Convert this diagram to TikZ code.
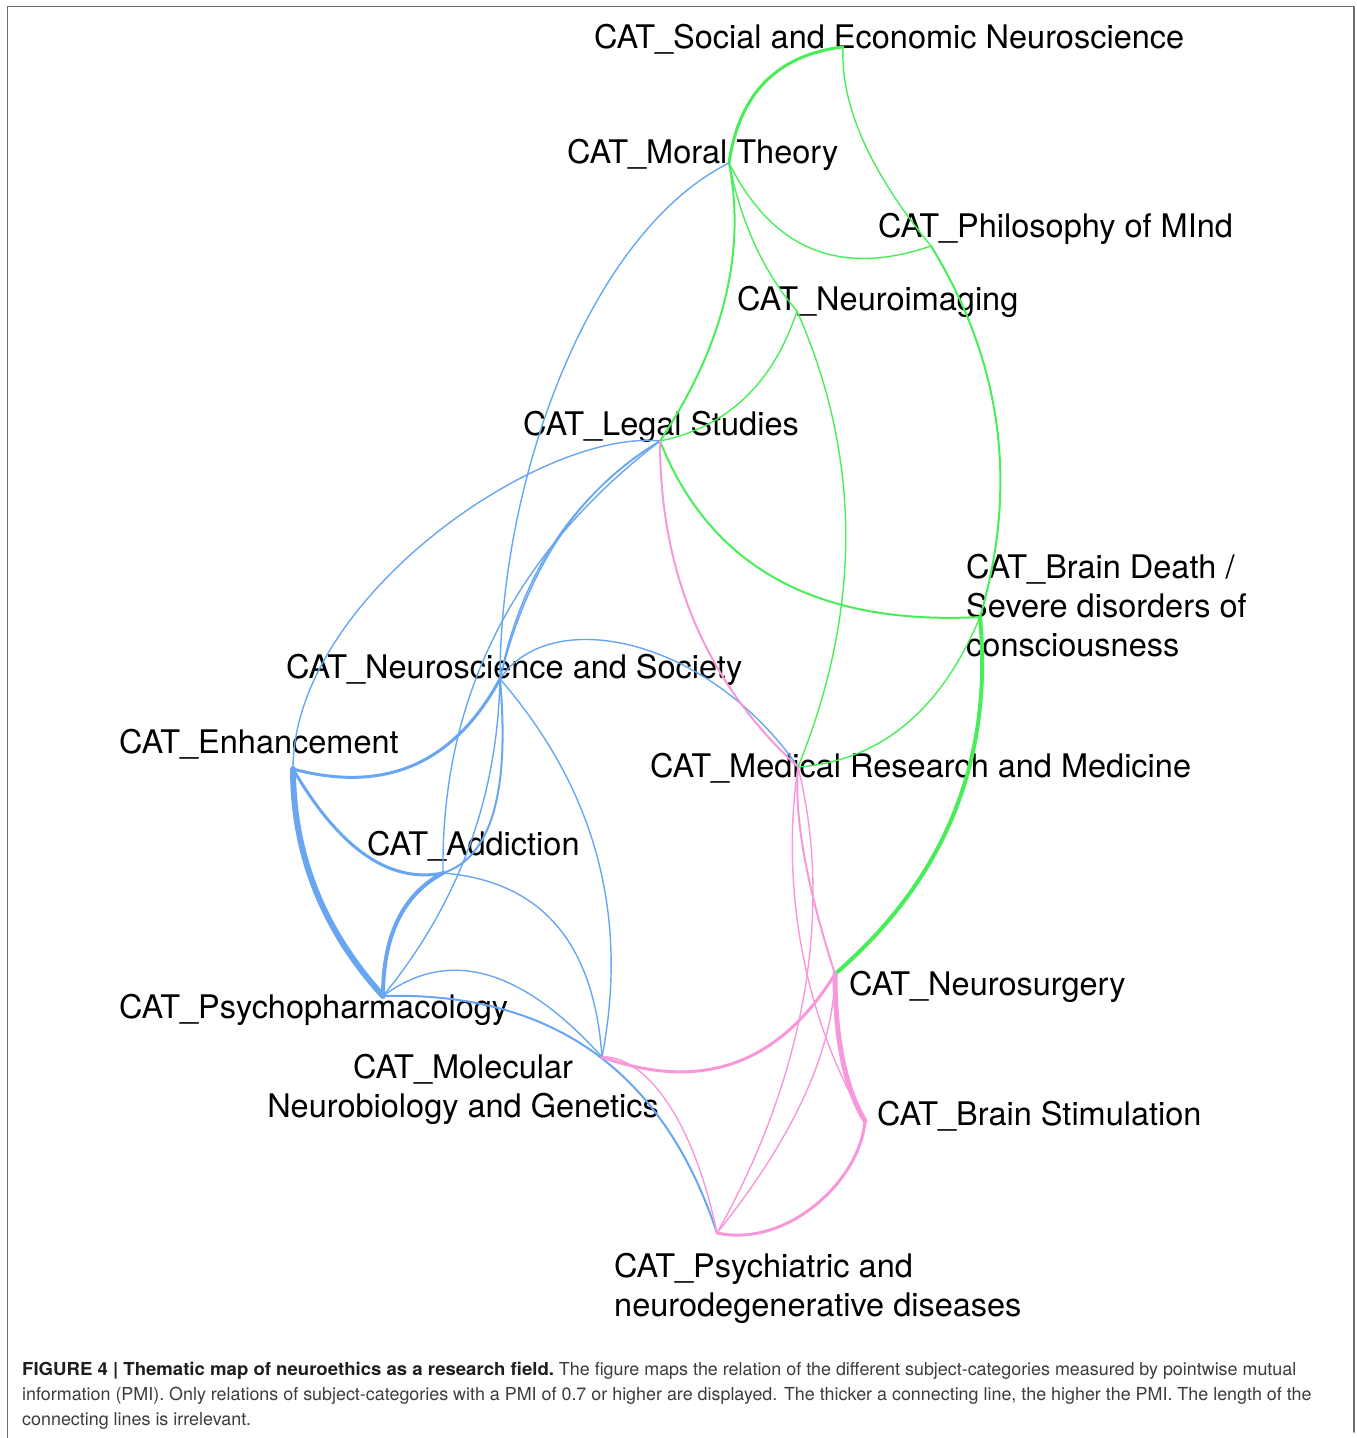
\documentclass[tikz,border=0pt]{standalone}
\usepackage{fontspec}
\usepackage{graphicx}
\usetikzlibrary{calc}
\setmainfont{TeX Gyre Heros}
\newfontfamily\capfont{TeX Gyre Heros}
\definecolor{gr}{RGB}{72,238,88}
\definecolor{bl}{RGB}{104,166,242}
\definecolor{pk}{RGB}{248,152,218}
\definecolor{frm}{RGB}{110,110,110}
\definecolor{captxt}{RGB}{60,60,60}
\definecolor{capbold}{RGB}{30,30,30}
\newcommand{\mlab}[2][l]{\begin{tabular}[t]{@{}#1@{}}#2\end{tabular}}
% quadratic edge: style, from, control, to
\newcommand{\qedge}[4]{\draw[#1] (#2) .. controls ($(#2)!0.6667!(#3)$) and ($(#4)!0.6667!(#3)$) .. (#4);}
\begin{document}
\begin{tikzpicture}[x=1pt,y=-1pt, line cap=round, line join=round,
 lbl/.style={inner sep=0pt, anchor=base west, font=\fontsize{32.5}{39}\selectfont},
 G/.style={draw=gr}, B/.style={draw=bl}, P/.style={draw=pk},
 w1/.style={line width=1.4pt}, w15/.style={line width=1.5pt}, w2/.style={line width=2pt},
 w3/.style={line width=3pt}, w4/.style={line width=4pt}, w5/.style={line width=5pt}, w6/.style={line width=6pt}]
\useasboundingbox (0,0) rectangle (1357,1438);
\draw[frm, line width=1.5pt] (7.5,1440) -- (7.5,6.5) -- (1354,6.5) -- (1354,1432);

% vertices
\coordinate (S) at (843,47);
\coordinate (M) at (729,163);
\coordinate (P) at (931,246);
\coordinate (N) at (797,311);
\coordinate (L) at (660,441);
\coordinate (BD) at (980,617);
\coordinate (NS) at (500,679);
\coordinate (E) at (293,769);
\coordinate (MR) at (798,767);
\coordinate (A) at (443,873);
\coordinate (PP) at (383,996);
\coordinate (MO) at (602,1057);
\coordinate (NSU) at (835,974);
\coordinate (BS) at (865,1121);
\coordinate (PS) at (717,1233);

% labels
\node[lbl] (tS) at (594,48) {CAT\_Social and Economic Neuroscience};
\node[lbl] (tM) at (567,163) {CAT\_Moral Theory};
\node[lbl] (tP) at (878,237) {CAT\_Philosophy of MInd};
\node[lbl] (tN) at (737,310) {CAT\_Neuroimaging};
\node[lbl] (tL) at (523,435) {CAT\_Legal Studies};
\node[lbl] (tBD) at (966,578) {\mlab{CAT\_Brain Death /\\Severe disorders of\\consciousness}};
\node[lbl] (tNS) at (286,678) {CAT\_Neuroscience and Society};
\node[lbl] (tE) at (119,753) {CAT\_Enhancement};
\node[lbl] (tMR) at (650,777) {CAT\_Medical Research and Medicine};
\node[lbl] (tA) at (367,855) {CAT\_Addiction};
\node[lbl] (tNSU) at (849,995) {CAT\_Neurosurgery};
\node[lbl] (tPP) at (119,1018) {CAT\_Psychopharmacology};
\node[lbl, anchor=base] (tMO) at (463,1078) {\mlab[c]{CAT\_Molecular\\Neurobiology and Genetics}};
\node[lbl] (tBS) at (877,1125) {CAT\_Brain Stimulation};
\node[lbl] (tPS) at (614,1277) {\mlab{CAT\_Psychiatric and\\neurodegenerative diseases}};

% green edges
\qedge{G,w3}{M}{744,59}{S}
\qedge{G,w1}{S}{839,134}{P}
\qedge{G,w1}{M}{794,293}{P}
\qedge{G,w1}{M}{747,253}{N}
\qedge{G,w2}{M}{755,298}{L}
\qedge{G,w1}{N}{761,420}{L}
\qedge{G,w1}{N}{894,531}{MR}
\qedge{G,w2}{L}{735,630}{BD}
\qedge{G,w2}{P}{1038,420}{BD}
\qedge{G,w4}{BD}{1000,832}{NSU}
\qedge{G,w1}{BD}{921,758}{MR}

% blue edges
\draw[B,w1] (M) .. controls (589,233) and (500,479) .. (NS);
\qedge{B,w15}{L}{532,520}{NS}
\qedge{B,w15}{L}{541,511}{NS}
\qedge{B,w1}{L}{440,610}{A}
\draw[B,w1] (L) .. controls (540,429) and (293,599) .. (E);
\qedge{B,w3}{NS}{431,806}{E}
\draw[B,w1] (NS) .. controls (550,604) and (708,637) .. (MR);
\qedge{B,w1}{NS}{643,844}{MO}
\qedge{B,w2}{NS}{515,850}{A}
\qedge{B,w1}{NS}{496,858}{PP}
\qedge{B,w3}{E}{363,889}{A}
\qedge{B,w6}{E}{293,897}{PP}
\qedge{B,w4}{A}{383,905}{PP}
\qedge{B,w1}{A}{590,885}{MO}
\qedge{B,w1}{PP}{481,923}{MO}
\qedge{B,w2}{PP}{636,989}{PS}

% pink edges
\qedge{P,w2}{L}{660,640}{MR}
\qedge{P,w2}{MR}{792,841}{NSU}
\draw[P,w1] (MR) .. controls (783,867) and (795,1001) .. (BS);
\draw[P,w1] (MR) .. controls (833,907) and (807,1073) .. (PS);
\qedge{P,w1}{NSU}{833,1088}{PS}
\qedge{P,w5}{NSU}{835,1071}{BS}
\qedge{P,w3}{NSU}{751,1110}{MO}
\draw[P,w1] (MO) .. controls (642,1055) and (692,1113) .. (PS);
\draw[P,w3] (BS) .. controls (860,1181) and (787,1248) .. (PS);

% caption
\node[anchor=base west, inner sep=0pt, text=captxt, font=\capfont\fontsize{17.9}{25}\selectfont] (cap) at (22,1375)
 {\begin{tabular}[t]{@{}l@{}}\textcolor{capbold}{\scalebox{1.038}[1]{\textbf{FIGURE 4 | Thematic map of neuroethics as a research field.}}} The figure maps the relation of the different subject-categories measured by pointwise mutual\\
 information (PMI). Only relations of subject-categories with a PMI of 0.7 or higher are displayed. The thicker a connecting line, the higher the PMI. The length of the\\
 connecting lines is irrelevant.\end{tabular}};
\end{tikzpicture}
\end{document}
